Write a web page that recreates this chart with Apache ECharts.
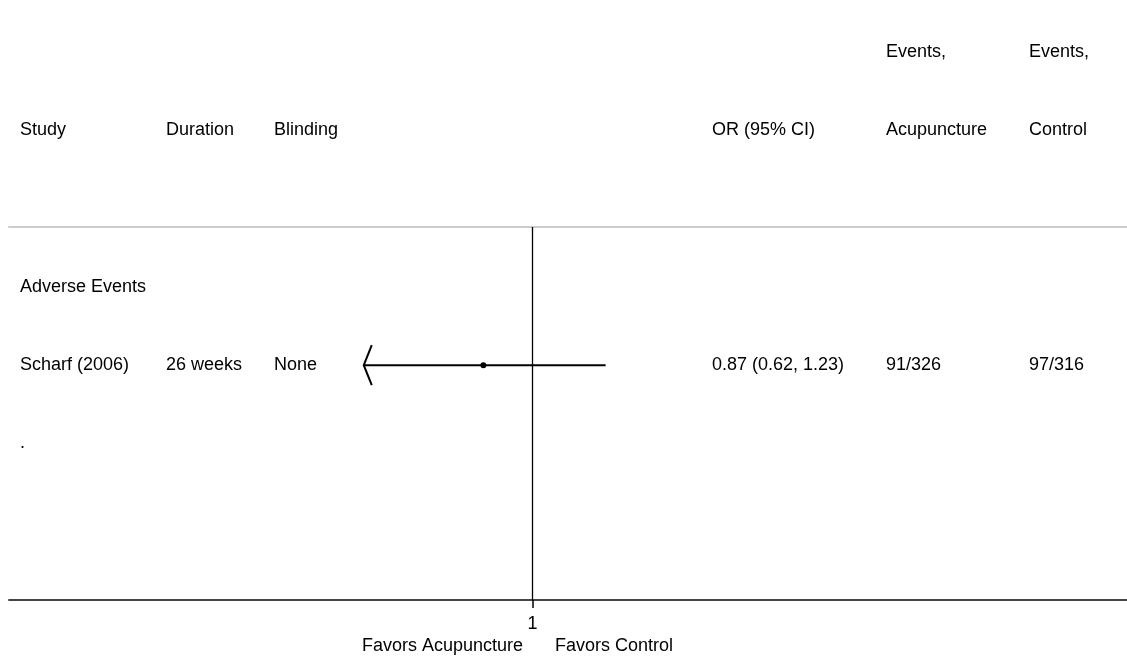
<!DOCTYPE html>
<html>
<head>
<meta charset="utf-8">
<script src="https://cdn.jsdelivr.net/npm/echarts@6/dist/echarts.min.js"></script>
<style>
html,body{margin:0;padding:0;background:#fff;}
#c{width:1127px;height:658px;}
</style>
</head>
<body>
<div id="c"></div>
<script>
// ---------- data ----------
const headerTop = ['', '', '', '', 'Events,', 'Events,'];
const headerBottom = ['Study', 'Duration', 'Blinding', 'OR (95% CI)', 'Acupuncture', 'Control'];
const groupLabels = ['Adverse Events'];
const studies = ['Scharf (2006)'];
const durations = ['26 weeks'];
const blinding = ['None'];
const orValues = [0.87];
const ciLower = [0.62];
const ciUpper = [1.23];
const ciClippedLeft = [true];
const orText = ['0.87 (0.62, 1.23)'];
const eventsAcu = ['91/326'];
const eventsCtrl = ['97/316'];
const footLabels = ['.'];
const nullValue = 1;
const xTicksOR = [1];
const favorLabels = ['Favors Acupuncture', 'Favors Control'];

// row indices (y scale units)
const headerRows = [-2, -1];
const groupRows = [1];
const studyRows = [2];
const footRows = [3];

// ---------- layout ----------
const FONT = '"Liberation Sans", Arial, Helvetica, sans-serif';
const FS = 18;
const colX = [20, 166, 274, 712, 886, 1029];
const xMinLn = -1.483, xMaxLn = 1.684;
const yMin = 0.235, yMax = 5;

const ln = Math.log;
const ciData = studies.map((s, i) => [ln(ciLower[i]), ln(ciUpper[i]), ln(orValues[i]), studyRows[i], ciClippedLeft[i] ? 1 : 0]);

const chart = echarts.init(document.getElementById('c'), null, {renderer: 'canvas'});

chart.setOption({
  animation: false,
  backgroundColor: '#fff',
  grid: {left: 9, right: 0, top: 227, bottom: 58, containLabel: false},
  xAxis: [
    {
      type: 'value', min: xMinLn, max: xMaxLn, position: 'bottom',
      axisLine: {show: true, onZero: false, lineStyle: {color: '#444', width: 2}},
      axisTick: {show: true, customValues: xTicksOR.map(ln), length: 8, lineStyle: {color: '#000', width: 1.5}},
      axisLabel: {
        show: true, customValues: xTicksOR.map(ln), margin: 15,
        formatter: v => String(Math.round(Math.exp(v) * 100) / 100),
        fontSize: FS, color: '#000', fontFamily: FONT
      },
      splitLine: {show: false}
    },
    {
      type: 'value', min: xMinLn, max: xMaxLn, position: 'top',
      axisLine: {show: true, onZero: false, lineStyle: {color: '#cccccc', width: 2}},
      axisTick: {show: false}, axisLabel: {show: false}, splitLine: {show: false}
    }
  ],
  yAxis: {type: 'value', inverse: true, min: yMin, max: yMax, show: false},
  series: [{
    type: 'custom',
    xAxisIndex: 0,
    data: ciData,
    encode: {x: [0, 1, 2], y: 3},
    clip: false,
    renderItem: function (params, api) {
      const y = api.value(3);
      const lo = api.coord([api.value(0), y]);
      const hi = api.coord([api.value(1), y]);
      const pt = api.coord([api.value(2), y]);
      const children = [
        {type: 'line', shape: {x1: lo[0], y1: lo[1], x2: hi[0], y2: hi[1]}, style: {stroke: '#000', lineWidth: 2}},
        {type: 'circle', shape: {cx: pt[0], cy: pt[1], r: 3}, style: {fill: '#000'}}
      ];
      if (api.value(4)) {
        children.push({type: 'polyline', shape: {points: [[lo[0] + 8, lo[1] - 20], [lo[0], lo[1]], [lo[0] + 8, lo[1] + 20]]},
          style: {stroke: '#000', lineWidth: 2, fill: null}});
      }
      return {type: 'group', children: children};
    },
    markLine: {
      silent: true, symbol: 'none', animation: false,
      label: {show: false},
      lineStyle: {color: '#000', width: 1.3, type: 'solid'},
      data: [{xAxis: ln(nullValue)}]
    }
  }]
});

// ---------- table text positioned through the y scale ----------
const yOf = r => chart.convertToPixel({yAxisIndex: 0}, r);
const xNull = chart.convertToPixel({xAxisIndex: 0}, ln(nullValue));
const graphics = [];
function addText(text, x, y, align) {
  if (!text) return;
  graphics.push({
    type: 'text', x: x, y: y, silent: true,
    style: {text: text, fill: '#000', font: FS + 'px ' + FONT,
      align: align || 'left', verticalAlign: 'middle',
      textAlign: align || 'left', textVerticalAlign: 'middle'}
  });
}
headerTop.forEach((t, i) => addText(t, colX[i], yOf(headerRows[0])));
headerBottom.forEach((t, i) => addText(t, colX[i], yOf(headerRows[1])));
groupLabels.forEach((t, i) => addText(t, colX[0], yOf(groupRows[i])));
studies.forEach((s, i) => {
  const y = yOf(studyRows[i]);
  addText(s, colX[0], y);
  addText(durations[i], colX[1], y);
  addText(blinding[i], colX[2], y);
  addText(orText[i], colX[3], y);
  addText(eventsAcu[i], colX[4], y);
  addText(eventsCtrl[i], colX[5], y);
});
footLabels.forEach((t, i) => addText(t, colX[0], yOf(footRows[i])));
addText(favorLabels[0], xNull - 9.5, 646, 'right');
addText(favorLabels[1], xNull + 22.5, 646, 'left');

chart.setOption({graphic: {elements: graphics}});
</script>
</body>
</html>
